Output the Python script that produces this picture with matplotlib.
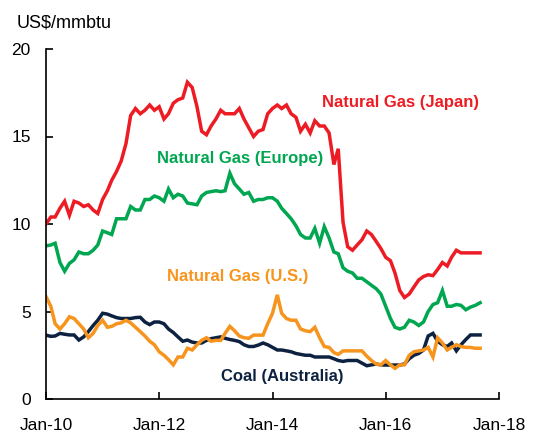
import matplotlib
matplotlib.use("Agg")
import matplotlib.pyplot as plt
import matplotlib.dates as mdates
import pandas as pd
from matplotlib import font_manager

months = pd.date_range("2010-01-01", periods=93, freq="MS")

japan = [10.0, 10.4, 10.4, 10.9, 11.3, 10.5, 11.3, 11.2, 11.0, 11.1, 10.8, 10.6,
         11.4, 11.9, 12.5, 13.0, 13.6, 14.6, 16.2, 16.6, 16.3, 16.5, 16.8, 16.5,
         16.7, 16.0, 16.3, 16.9, 17.1, 17.2, 18.1, 17.8, 16.7, 15.3, 15.1, 15.6,
         16.0, 16.5, 16.3, 16.3, 16.3, 16.6, 16.0, 15.5, 15.0, 15.3, 15.4, 16.3,
         16.6, 16.8, 16.6, 16.8, 16.3, 16.1, 15.3, 15.7, 15.2, 15.9, 15.6, 15.6,
         15.2, 13.4, 14.3, 10.1, 8.7, 8.5, 8.8, 9.1, 9.6, 9.4, 9.0, 8.6,
         8.1, 7.9, 7.2, 6.2, 5.8, 6.0, 6.4, 6.8, 7.0, 7.1, 7.05, 7.4,
         7.8, 7.6, 8.1, 8.5, 8.35, 8.35, 8.35, 8.35, 8.35]

europe = [8.75, 8.8, 8.9, 7.8, 7.3, 7.75, 7.95, 8.4, 8.3, 8.3, 8.5, 8.8,
          9.6, 9.5, 9.4, 10.3, 10.3, 10.3, 11.0, 10.8, 10.8, 11.4, 11.4, 11.6,
          11.5, 11.3, 12.0, 11.5, 11.7, 11.6, 11.2, 11.15, 11.1, 11.6, 11.8, 11.85,
          11.9, 11.85, 11.9, 12.9, 12.3, 12.0, 11.7, 11.8, 11.3, 11.4, 11.4, 11.5,
          11.5, 11.3, 10.9, 10.6, 10.3, 9.9, 9.4, 9.2, 9.2, 9.75, 8.9, 9.85,
          9.2, 8.4, 8.3, 7.5, 7.3, 7.2, 6.9, 6.9, 6.7, 6.5, 6.3, 6.0,
          5.3, 4.6, 4.1, 4.0, 4.1, 4.5, 4.4, 4.2, 4.4, 5.0, 5.4, 5.5,
          6.2, 5.3, 5.3, 5.4, 5.35, 5.1, 5.25, 5.35, 5.5]

us = [5.85, 5.3, 4.3, 4.0, 4.3, 4.7, 4.6, 4.3, 4.0, 3.5, 3.75, 4.2,
      4.5, 4.1, 4.15, 4.3, 4.35, 4.5, 4.35, 4.1, 3.85, 3.6, 3.3, 3.1,
      2.7, 2.5, 2.25, 1.95, 2.4, 2.4, 2.9, 2.8, 3.1, 3.35, 3.5, 3.3,
      3.35, 3.35, 3.75, 4.15, 3.9, 3.6, 3.5, 3.47, 3.65, 3.65, 3.65, 4.3,
      4.9, 5.95, 4.9, 4.6, 4.5, 4.5, 4.0, 3.9, 3.85, 4.1, 3.5, 3.0,
      2.95, 2.65, 2.55, 2.75, 2.75, 2.75, 2.75, 2.75, 2.45, 2.2, 2.0, 1.95,
      2.2, 1.95, 1.75, 1.95, 1.95, 2.5, 2.7, 2.75, 2.8, 2.95, 2.4, 3.5,
      3.2, 2.8, 2.95, 3.1, 3.0, 2.95, 2.95, 2.9, 2.9]

coal = [3.65, 3.58, 3.6, 3.75, 3.7, 3.66, 3.66, 3.37, 3.55, 3.85, 4.2, 4.5,
        4.9, 4.85, 4.75, 4.65, 4.6, 4.6, 4.6, 4.65, 4.67, 4.4, 4.25, 4.4,
        4.4, 4.3, 4.0, 3.8, 3.55, 3.3, 3.37, 3.25, 3.2, 3.2, 3.35, 3.45,
        3.5, 3.55, 3.47, 3.4, 3.35, 3.28, 3.1, 3.0, 3.0, 3.08, 3.2, 3.1,
        2.95, 2.8, 2.8, 2.75, 2.7, 2.6, 2.55, 2.5, 2.5, 2.4, 2.4, 2.4,
        2.4, 2.3, 2.2, 2.15, 2.2, 2.2, 2.2, 2.05, 1.9, 1.95, 2.0, 1.95,
        1.94, 1.94, 1.94, 1.94, 2.0, 2.3, 2.5, 2.6, 2.8, 3.6, 3.75, 3.3,
        3.1, 3.0, 3.2, 2.75, 3.1, 3.4, 3.66, 3.66, 3.66]

series_names = ["Natural Gas (Japan)", "Natural Gas (Europe)", "Natural Gas (U.S.)", "Coal (Australia)"]
colors = ["#ED1C24", "#00A650", "#F7941D", "#0D2240"]

names = {f.name for f in font_manager.fontManager.ttflist}
fam = "Liberation Sans Narrow" if "Liberation Sans Narrow" in names else "Liberation Sans"
plt.rcParams["font.family"] = [fam, "DejaVu Sans"]

fig = plt.figure(figsize=(5.43, 4.34), dpi=100)
ax = fig.add_axes([46 / 543, 1 - 399 / 434, (499 - 46) / 543, (399 - 49) / 434])

for vals, c in zip([coal, us, europe, japan], [colors[3], colors[2], colors[1], colors[0]]):
    ax.plot(months, vals, color=c, lw=2.5, solid_joinstyle="miter")

ax.set_ylim(0, 20)
ax.set_yticks([0, 5, 10, 15, 20])
ax.set_xlim(pd.Timestamp("2010-01-01"), pd.Timestamp("2018-01-01"))
ax.set_xticks([pd.Timestamp(f"{y}-01-01") for y in (2010, 2012, 2014, 2016, 2018)])
ax.xaxis.set_major_formatter(mdates.DateFormatter("%b-%y"))
for s in ("top", "right"):
    ax.spines[s].set_visible(False)
for s in ("left", "bottom"):
    ax.spines[s].set_linewidth(1.2)
ax.tick_params(direction="in", length=5, width=1.2, labelsize=12.5)
ax.tick_params(axis="x", pad=14)
ax.tick_params(axis="y", pad=11)

def px(x, y):
    return (x / 543, 1 - y / 434)

fig.text(*px(17, 23), "US$/mmbtu", fontsize=13, va="center", ha="left")
label_pos = [(400, 103), (240, 158), (238, 277), (282, 376)]
for name, c, (x, y) in zip(series_names, colors, label_pos):
    fig.text(*px(x, y), name, color=c, fontsize=12, fontweight="bold", ha="center", va="center")

fig.savefig("out.png", dpi=100)
